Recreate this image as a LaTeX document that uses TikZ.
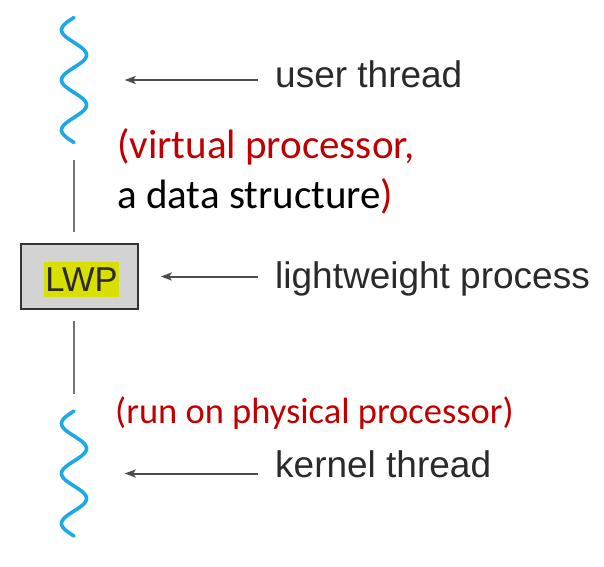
\documentclass[tikz,border=0pt]{standalone}
\usepackage{fontspec}
\usepackage{tikz}
\usepackage{xcolor}
\usetikzlibrary{arrows.meta}
\setmainfont{Liberation Sans}
\newfontfamily\calibri{Carlito}
\definecolor{wavecol}{HTML}{1CA9E6}
\definecolor{notered}{HTML}{C00000}
\definecolor{hiyellow}{HTML}{D9DF00}
\definecolor{boxgray}{HTML}{D3D3D3}
\definecolor{textgray}{HTML}{2A2A2A}
\tikzstyle{wave} = [draw=wavecol, line width=3.6pt, line cap=round]
\tikzstyle{link} = [draw=black!55, line width=2.2pt, -]
\tikzstyle{pointer} = [draw=black!70, line width=2pt, ->, shorten <=17pt]
\tikzstyle{label} = [anchor=base west, inner sep=0pt, text=textgray, font=\fontsize{37}{44}\selectfont]
\tikzstyle{note} = [anchor=base west, inner sep=0pt, align=left, font=\calibri]
\tikzstyle{lwpbox} = [rectangle, draw=black!80, line width=1.6pt, fill=boxgray, minimum width=117pt, minimum height=65pt]
\tikzstyle{hilite} = [fill=hiyellow, inner sep=0pt, inner xsep=1pt, text height=29pt, text depth=6pt, text=textgray, font=\fontsize{34.5}{40}\selectfont]

\begin{document}
\begin{tikzpicture}[x=1pt,y=-1pt,>={Stealth[length=11pt,width=8pt,inset=2.5pt]}]
  \useasboundingbox (0,0) rectangle (604,566);
  % threads and the LWP between them
  \node (user_w) [minimum width=25pt, minimum height=125pt, inner sep=0pt] at (74,80) {};
  \node (kern_w) [minimum width=25pt, minimum height=125pt, inner sep=0pt] at (74,473.5) {};
  \node[lwpbox] (LWP) at (79.5,276.5) {};
  \node[hilite, anchor=base] (LWP_txt) at (81.5,291) {LWP};
  \draw[wave] plot[domain=0:125, samples=120, smooth] ({74-12.5*sin(\x*7.2)},{17.5+\x});
  \draw[wave] plot[domain=0:125, samples=120, smooth] ({74-12.5*sin(\x*7.2)},{411+\x});

  \draw[link, shorten <=17.5pt, shorten >=11pt] (user_w) -- (user_w |- LWP.north);
  \draw[link, shorten <=11pt, shorten >=17pt] (kern_w |- LWP.south) -- (kern_w);

  % labels on the right
  \node[label] (L_user) at (275,87) {user thread};
  \node[label] (L_LWP) at (275,288) {lightweight process};
  \node[label] (L_kern) at (275,477) {kernel thread};
  \draw[pointer, shorten >=38pt] (L_user.west |- user_w) -- (user_w);
  \draw[pointer, shorten >=22pt] (L_LWP.west |- LWP.east) -- (LWP.east);
  \draw[pointer, shorten >=38pt] (L_kern.west |- kern_w) -- (kern_w);

  % notes
  \node[note, font=\calibri\fontsize{41}{50}\selectfont] (N_virt) at (117,208)
    {\textcolor{notered}{(virtual processor,}\\a data structure\textcolor{notered}{)}};
  \node[note, text=notered, font=\calibri\fontsize{36.5}{44}\selectfont] (N_run) at (115,423)
    {(run on physical processor)};
\end{tikzpicture}
\end{document}
